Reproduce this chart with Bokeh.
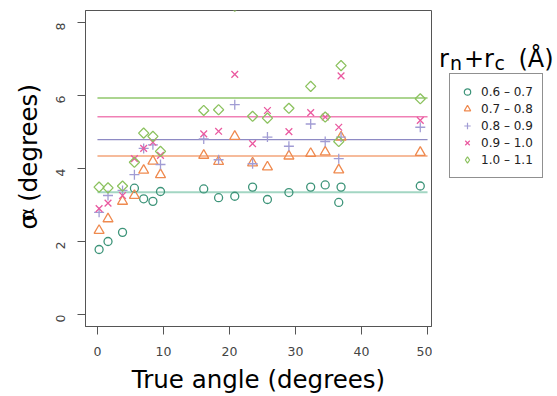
import numpy as np
from bokeh.plotting import figure
from bokeh.layouts import row
from bokeh.models import Range1d, Legend, LegendItem, FixedTicker, LinearAxis, Label
from bokeh.embed import file_html
from bokeh.resources import INLINE

# ---- data ----
true_angle = [0.25, 1.6, 3.8, 5.6, 7.0, 8.4, 9.55, 16.1, 18.35, 20.8, 23.5, 25.75,
              29.0, 32.3, 34.5, 36.55, 36.9, 48.9]
s_06_07 = [1.78, 2.0, 2.25, 3.46, 3.17, 3.10, 3.37, 3.44, 3.2, 3.24, 3.49, 3.15,
           3.34, 3.49, 3.55, 3.07, 3.49, 3.52]
s_07_08 = [2.3, 2.62, 3.1, 3.26, 3.95, 4.2, 3.83, 4.36, 4.19, 4.88, 4.15, 4.04,
           4.34, 4.41, 4.45, 3.96, 4.86, 4.44]
s_08_09 = [2.8, 3.26, 3.4, 3.83, 4.55, 4.65, 4.11, 4.81, 4.24, 5.75, 4.13, 4.86,
           4.61, 5.22, 4.74, 4.27, 4.86, 5.13]
s_09_10 = [2.9, 3.05, 3.26, 4.27, 4.55, 4.72, 4.36, 4.95, 5.02, 6.58, 4.68, 5.59,
           5.01, 5.53, 5.41, 5.13, 6.54, 5.32]
s_10_11 = [3.49, 3.47, 3.52, 4.17, 4.97, 4.88, 4.47, 5.59, 5.61, 8.45, 5.43, 5.38,
           5.65, 6.25, 5.41, 4.74, 6.82, 5.91]
series_labels = ["0.6 \u2013 0.7", "0.7 \u2013 0.8", "0.8 \u2013 0.9", "0.9 \u2013 1.0", "1.0 \u2013 1.1"]
plateau = [3.35, 4.34, 4.79, 5.42, 5.93]
plateau_x = [0, 50]
x_ticks = [0, 10, 20, 30, 40, 50]
y_ticks = [0, 2, 4, 6, 8]

marker_colors = ["#3d9479", "#ef8a4f", "#a19cd4", "#ea5aa0", "#8cc25f"]
line_colors = ["#a3d6c3", "#f3a57a", "#8e8ac4", "#f080b5", "#acd590"]
line_widths = [2, 1.5, 1.3, 1.5, 2]

FONT = "DejaVu Sans"
NB = "\u00a0"

# ---------------- main plot ----------------
p = figure(width=432, height=396, output_backend="svg", toolbar_location=None,
           x_range=Range1d(-1.81, 50.6), y_range=Range1d(-0.33, 8.33),
           min_border_left=83, min_border_right=1, min_border_top=10,
           min_border_bottom=70)
p.grid.visible = False
p.background_fill_color = "white"
p.border_fill_color = "white"
p.outline_line_color = "#555555"
p.outline_line_width = 1

for ax, ticks in ((p.xaxis[0], x_ticks), (p.yaxis[0], y_ticks)):
    ax.ticker = FixedTicker(ticks=ticks)
    ax.major_tick_out = 8
    ax.major_tick_in = 0
    ax.minor_tick_out = 0
    ax.minor_tick_in = 0
    ax.axis_line_color = "#555555"
    ax.major_tick_line_color = "#555555"
    ax.major_label_text_font = FONT
    ax.major_label_text_font_size = "12.5px"
    ax.major_label_text_color = "#444444"
    ax.axis_label_text_font = FONT
    ax.axis_label_text_font_size = "24.5px"
    ax.axis_label_text_font_style = "normal"
    ax.axis_label_text_color = "black"
    ax.axis_label_standoff = 6

p.xaxis.major_label_standoff = 12
p.xaxis.axis_label = "True angle (degrees)"
p.yaxis.major_label_standoff = 17
p.yaxis.major_label_orientation = np.pi / 2
p.yaxis.axis_label = NB * 3 + "\u03c3\u2002(degrees)"

# subscript alpha of the y title, carried by a bare extra axis
alpha_tick = 2.92
ax_a = LinearAxis(ticker=FixedTicker(ticks=[alpha_tick]), major_label_overrides={alpha_tick: "\u03b1"})
ax_a.axis_line_color = None
ax_a.major_tick_line_color = None
ax_a.major_tick_out = 0
ax_a.major_tick_in = 0
ax_a.minor_tick_out = 0
ax_a.minor_tick_in = 0
ax_a.major_label_standoff = -17
ax_a.major_label_text_font = FONT
ax_a.major_label_text_font_size = "20px"
ax_a.major_label_text_color = "black"
ax_a.major_label_orientation = np.pi / 2
p.add_layout(ax_a, "left")

# plateau lines
for lvl, c, w in zip(plateau, line_colors, line_widths):
    p.line(plateau_x, [lvl, lvl], line_color=c, line_width=w)

series = [s_06_07, s_07_08, s_08_09, s_09_10, s_10_11]
marks = [("circle", 8, 0), ("triangle", 10, 0), ("cross", 10, 0), ("x", 9.5, 0), ("square", 7.2, np.pi / 4)]
for ys, c, (m, sz, ang) in zip(series, marker_colors, marks):
    p.scatter(true_angle, ys, marker=m, size=sz, angle=ang, fill_color=None,
              line_color=c, line_width=1.3)

# ---------------- legend panel (right) ----------------
q = figure(width=125, height=396, output_backend="svg", toolbar_location=None,
           x_range=Range1d(0, 1), y_range=Range1d(0, 1),
           x_axis_type=None, y_axis_type=None, min_border=0)
q.grid.visible = False
q.outline_line_color = None
q.background_fill_color = "white"
q.border_fill_color = "white"

legend_marks = ["circle", "triangle", "cross", "x", "diamond"]
items = []
for lab, c, m in zip(series_labels, marker_colors, legend_marks):
    r = q.scatter([-5], [-5], marker=m, size=6, fill_color=None, line_color=c, line_width=1.2)
    items.append(LegendItem(label=lab, renderers=[r]))
legend = Legend(items=items, location=(17, 148), padding=9, margin=0, spacing=0,
                glyph_width=16, glyph_height=17, label_height=17, label_standoff=6,
                label_text_font=FONT, label_text_font_size="12px", label_text_color="#222222",
                border_line_color="#222222", border_line_width=1,
                background_fill_color="white", background_fill_alpha=1)
q.add_layout(legend)

QX, QB = 432, 326  # page x of the panel's left edge, page y of its (row-aligned) frame bottom


def qlab(text, px, py, size):
    q.add_layout(Label(text=text, x=px - QX, y=QB - py, x_units="screen", y_units="screen",
                       text_align="left", text_baseline="alphabetic",
                       text_font=FONT, text_font_size=size, text_color="black"))

# legend title: r_n + r_c (Å)
qlab("r", 438.5, 58.3, "24px")
qlab("n", 449.5, 62.7, "19px")
qlab("+r", 463.5, 58.3, "24px")
qlab("c", 494, 62.7, "19px")
qlab("(\u00c5)", 518, 58.3, "24px")

open("out.html", "w").write(file_html(row(p, q), INLINE))
